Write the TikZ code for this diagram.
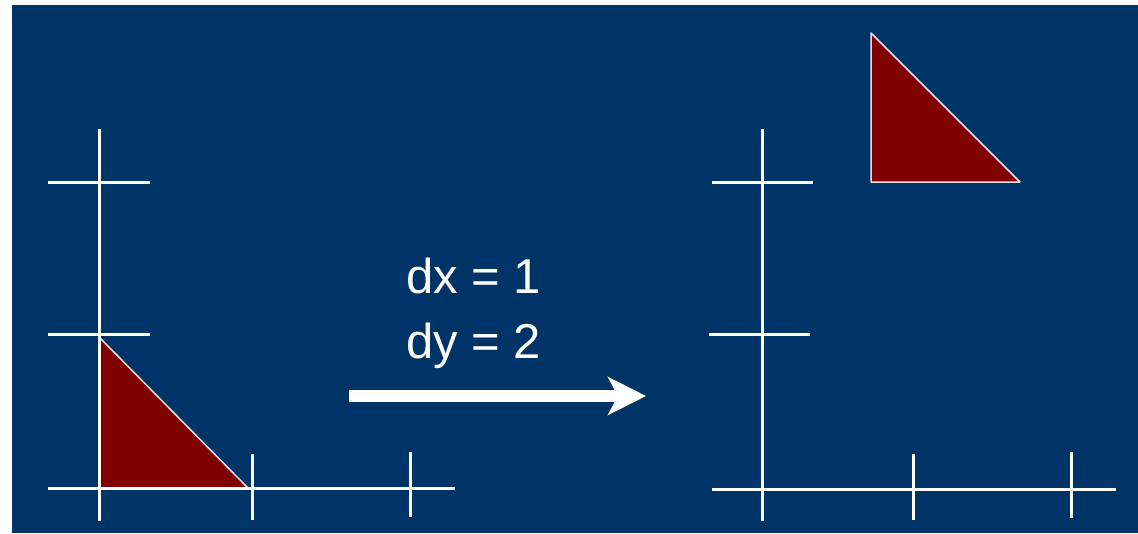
\documentclass[tikz,border=0pt]{standalone}
\usepackage{fontspec}
\setmainfont{Liberation Sans}
\usetikzlibrary{arrows.meta}
\definecolor{bgblue}{RGB}{0,51,102}
\definecolor{tri}{RGB}{128,0,0}
\definecolor{edge}{RGB}{225,225,225}
\begin{document}
\begin{tikzpicture}[x=1pt,y=-1pt,
  axis/.style={draw=white,line width=3pt},
  trishape/.style={fill=tri,draw=edge,line width=1.5pt,line join=round},
  lbl/.style={text=white,font=\fontsize{49}{58}\selectfont,inner sep=0pt,anchor=base west}]
\useasboundingbox (0,0) rectangle (1138,533);
\fill[bgblue] (12,5) rectangle (1138,533);
% left panel
\fill[trishape] (99,337) -- (99,488) -- (248,488) -- cycle;
\draw[axis] (99,129) -- (99,521);
\draw[axis] (48,488) -- (455,488);
\draw[axis] (48,182) -- (150,182);
\draw[axis] (48,334) -- (150,334);
\draw[axis] (252,454) -- (252,520);
\draw[axis] (410,452) -- (410,517);
% right panel
\fill[trishape] (871,33) -- (871,182) -- (1020,182) -- cycle;
\draw[axis] (762,129) -- (762,521);
\draw[axis] (712,489) -- (1116,489);
\draw[axis] (712,182) -- (813,182);
\draw[axis] (709,334) -- (810,334);
\draw[axis] (913,454) -- (913,520);
\draw[axis] (1071,452) -- (1071,518);
% labels
\node[lbl] (dx) at (406,293) {dx = 1};
\node[lbl] (dy) at (406,358) {dy = 2};
% arrow
\coordinate (as) at (349,396);
\coordinate (ae) at (646,396);
\draw[white,line width=12pt,-{Stealth[length=38pt,width=38pt,inset=10pt]}] (as) -- (ae);
\end{tikzpicture}
\end{document}
